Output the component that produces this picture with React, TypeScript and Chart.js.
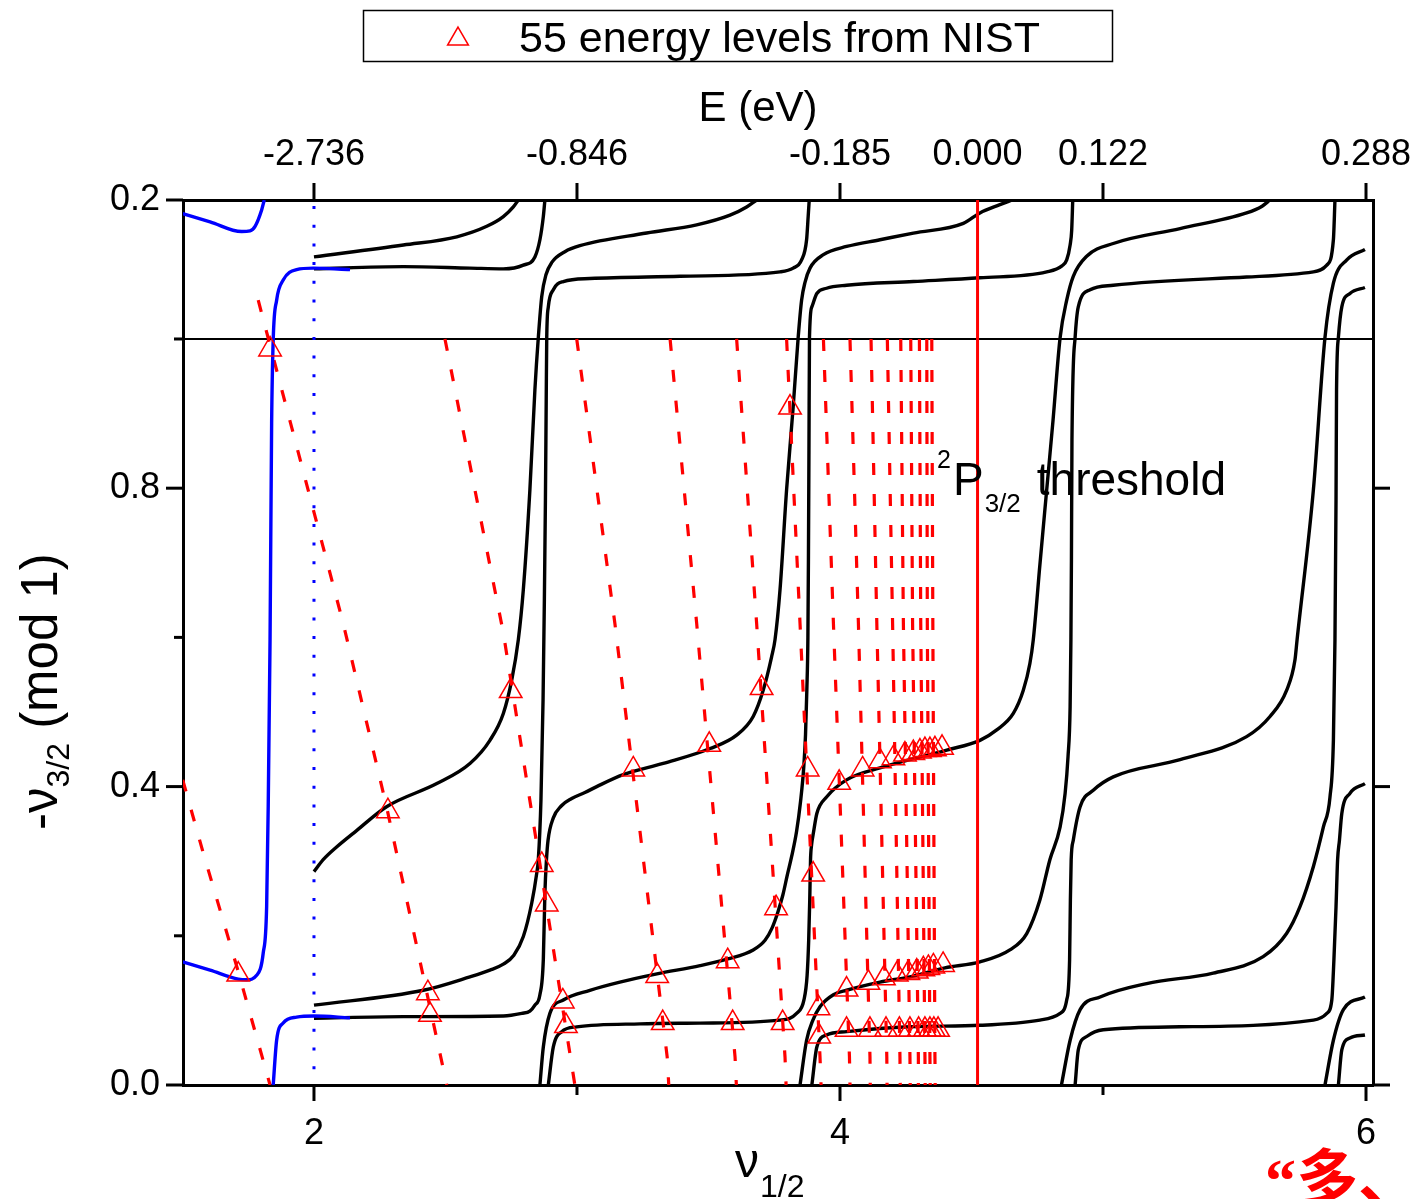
import React, { useEffect, useRef } from 'react';
import { Chart, registerables } from 'chart.js';

Chart.register(...registerables);

type Pt = [number, number];

// ---------- axes ----------
const X_MIN = 1.502;
const X_MAX = 6.0266;
const Y_MIN = 0;
const Y_MAX = 1.1863;

const xTickValues = [2, 4, 6];
const xTickLabels = ['2', '4', '6'];
const xMinorTicks = [3, 5];
const yTickValues = [0, 0.4, 0.8, 1.1863];
const yTickLabels = ['0.0', '0.4', '0.8', '0.2'];
const yMinorTicks = [0.2, 0.6, 1.0];
const yRightTicks = [0, 0.4, 0.8];
const eTickNu = [2, 3, 4, 4.523, 5, 6];
const eTickLabels = ['-2.736', '-0.846', '-0.185', '0.000', '0.122', '0.288'];
const eTickMarks = [2, 3, 4, 5, 6];

// ---------- reference lines ----------
const thresholdNu = 4.523;
const referenceLevel = 1.0;
const boundaryNu = 2;

// ---------- black MQDT curves (nu_1/2, -nu_3/2 mod 1) ----------
const curveMid23: Pt[] = [
  [2.0, 0.286], [2.035, 0.302], [2.086, 0.319], [2.162, 0.341], [2.276, 0.373], [2.467, 0.404],
  [2.593, 0.431], [2.669, 0.462], [2.72, 0.498], [2.752, 0.543], [2.777, 0.597], [2.796, 0.664],
  [2.821, 0.798], [2.84, 0.932], [2.853, 1.002], [2.866, 1.057], [2.882, 1.086], [2.905, 1.103],
  [2.954, 1.117], [3.011, 1.125], [3.265, 1.142], [3.455, 1.153], [3.582, 1.166], [3.645, 1.177],
  [3.683, 1.1863],
];
const curveLow23: Pt[] = [
  [2.0, 0.107], [2.416, 0.127], [2.593, 0.145], [2.669, 0.154], [2.72, 0.162], [2.76, 0.174],
  [2.796, 0.199], [2.828, 0.244], [2.847, 0.284], [2.853, 0.302], [2.863, 0.382], [2.871, 0.516],
  [2.876, 0.65], [2.88, 0.784], [2.883, 0.918], [2.885, 1.002], [2.891, 1.043], [2.91, 1.066],
  [2.948, 1.077], [3.049, 1.081], [3.392, 1.084], [3.772, 1.09], [3.822, 1.095], [3.854, 1.106],
  [3.873, 1.133], [3.879, 1.164], [3.883, 1.1863],
];
const curveFlat23: Pt[] = [
  [2.0, 0.0894], [2.34, 0.0916], [2.72, 0.0925], [2.79, 0.096], [2.821, 0.099], [2.84, 0.107],
  [2.859, 0.121], [2.872, 0.168], [2.878, 0.257], [2.884, 0.302], [2.89, 0.328], [2.91, 0.358],
  [2.94, 0.374], [2.98, 0.384], [3.03, 0.392], [3.075, 0.4], [3.176, 0.416], [3.328, 0.431],
  [3.506, 0.451], [3.607, 0.469], [3.67, 0.494], [3.708, 0.529], [3.74, 0.574], [3.753, 0.597],
  [3.772, 0.664], [3.797, 0.798], [3.822, 0.909], [3.841, 1.002], [3.854, 1.052], [3.867, 1.076],
  [3.886, 1.095], [3.937, 1.113], [4.025, 1.124], [4.152, 1.133], [4.279, 1.142], [4.469, 1.155],
  [4.532, 1.169], [4.608, 1.18], [4.654, 1.1863],
];
const curveLow34: Pt[] = [
  [2.859, 0.0], [2.872, 0.051], [2.897, 0.096], [2.948, 0.114], [3.049, 0.127], [3.163, 0.138],
  [3.304, 0.149], [3.468, 0.16], [3.573, 0.169], [3.67, 0.181], [3.715, 0.194], [3.741, 0.21],
  [3.764, 0.232], [3.783, 0.255], [3.8, 0.282], [3.816, 0.306], [3.835, 0.34], [3.85, 0.38],
  [3.862, 0.425], [3.869, 0.47], [3.874, 0.53], [3.878, 0.6], [3.88, 0.704], [3.882, 0.851],
  [3.884, 1.002], [3.893, 1.043], [3.912, 1.061], [3.949, 1.068], [4.025, 1.072], [4.279, 1.077],
  [4.532, 1.082], [4.786, 1.09], [4.844, 1.098], [4.862, 1.106], [4.875, 1.126], [4.881, 1.146],
  [4.885, 1.1863],
];
const curveFlat34: Pt[] = [
  [2.891, 0.0], [2.91, 0.051], [2.942, 0.0715], [2.999, 0.078], [3.24, 0.082], [3.468, 0.083],
  [3.772, 0.087], [3.835, 0.096], [3.863, 0.114], [3.875, 0.147], [3.881, 0.194], [3.885, 0.248],
  [3.888, 0.302], [3.892, 0.322], [3.899, 0.338], [3.912, 0.364], [3.949, 0.386], [4.025, 0.409],
  [4.152, 0.425], [4.406, 0.449], [4.532, 0.462], [4.596, 0.476], [4.659, 0.498], [4.697, 0.529],
  [4.722, 0.565], [4.735, 0.597], [4.76, 0.697], [4.786, 0.798], [4.81, 0.891], [4.837, 1.002],
  [4.862, 1.052], [4.887, 1.084], [4.938, 1.111], [5.039, 1.128], [5.293, 1.148], [5.546, 1.169],
  [5.605, 1.178], [5.635, 1.1863],
];
const curveLow45: Pt[] = [
  [3.848, 0.0], [3.873, 0.06], [3.897, 0.087], [3.924, 0.105], [3.975, 0.121], [4.025, 0.127],
  [4.152, 0.138], [4.266, 0.145], [4.399, 0.157], [4.532, 0.165], [4.646, 0.181], [4.71, 0.203],
  [4.76, 0.248], [4.798, 0.302], [4.837, 0.346], [4.856, 0.391], [4.867, 0.44], [4.875, 0.507],
  [4.878, 0.597], [4.88, 0.704], [4.882, 0.865], [4.894, 1.002], [4.906, 1.043], [4.951, 1.066],
  [5.039, 1.072], [5.546, 1.083], [5.8, 1.09], [5.851, 1.099], [5.876, 1.133], [5.882, 1.1863],
];
const curveFlat45: Pt[] = [
  [3.893, 0.0], [3.912, 0.051], [3.949, 0.067], [4.025, 0.0715], [4.266, 0.078], [4.532, 0.08],
  [4.76, 0.087], [4.837, 0.096], [4.862, 0.114], [4.873, 0.168], [4.876, 0.248], [4.879, 0.302],
  [4.887, 0.328], [4.913, 0.373], [4.963, 0.395], [5.039, 0.413], [5.293, 0.436], [5.546, 0.467],
  [5.635, 0.494], [5.698, 0.529], [5.73, 0.57], [5.738, 0.597], [5.8, 0.798], [5.844, 1.002],
  [5.876, 1.075], [5.927, 1.106], [5.996, 1.12],
];
const curveLow56: Pt[] = [
  [4.842, 0.0], [4.875, 0.06], [4.913, 0.101], [4.989, 0.118], [5.166, 0.136], [5.419, 0.15],
  [5.609, 0.172], [5.698, 0.203], [5.749, 0.239], [5.8, 0.293], [5.838, 0.346], [5.863, 0.386],
  [5.876, 0.462], [5.882, 0.597], [5.886, 0.784], [5.888, 0.932], [5.895, 1.002], [5.908, 1.043],
  [5.939, 1.061], [5.996, 1.069],
];
const curveFlat56: Pt[] = [
  [4.894, 0.0], [4.906, 0.047], [4.938, 0.065], [5.001, 0.074], [5.293, 0.078], [5.8, 0.087],
  [5.851, 0.096], [5.87, 0.114], [5.878, 0.168], [5.886, 0.239], [5.892, 0.302], [5.899, 0.328],
  [5.908, 0.364], [5.939, 0.391], [5.996, 0.404],
];
const curveLow6: Pt[] = [[5.844, 0.0], [5.876, 0.06], [5.914, 0.101], [5.996, 0.118]];
const curveFlat6: Pt[] = [[5.895, 0.0], [5.908, 0.047], [5.939, 0.063], [5.996, 0.067]];
const curveTopLow23: Pt[] = [
  [2.0, 1.11], [2.34, 1.126], [2.543, 1.137], [2.657, 1.151], [2.72, 1.164], [2.758, 1.177], [2.777, 1.1863],
];
const curveTopFlat23: Pt[] = [
  [2.0, 1.094], [2.34, 1.097], [2.593, 1.095], [2.72, 1.094], [2.796, 1.099], [2.84, 1.11],
  [2.859, 1.133], [2.872, 1.164], [2.878, 1.1863],
];

// ---------- blue curves (nu_1/2 < 2 region) ----------
const blueMain: Pt[] = [
  [1.501, 0.165], [1.605, 0.154], [1.712, 0.142], [1.744, 0.141], [1.782, 0.147], [1.807, 0.177],
  [1.82, 0.239], [1.826, 0.373], [1.833, 0.597], [1.839, 0.887], [1.845, 0.999], [1.858, 1.052],
  [1.883, 1.079], [1.934, 1.093], [1.997, 1.095], [2.137, 1.093],
];
const blueTop: Pt[] = [
  [1.501, 1.168], [1.605, 1.157], [1.725, 1.144], [1.757, 1.145], [1.776, 1.151], [1.801, 1.173], [1.811, 1.1863],
];
const blueBottom: Pt[] = [
  [1.845, 0.0], [1.858, 0.06], [1.883, 0.083], [1.934, 0.091], [2.0, 0.0925], [2.137, 0.09],
];

// ---------- red dashed level lines ----------
const levelLine0: Pt[] = [[1.501, 0.409], [1.579, 0.311], [1.712, 0.152], [1.833, 0.0]];
const levelLine1: Pt[] = [[1.788, 1.052], [2.111, 0.619], [2.276, 0.373], [2.505, 0.0]];
const levelLine2: Pt[] = [[2.498, 1.0], [2.72, 0.606], [2.992, 0.0]];
const levelLine3: Pt[] = [[2.999, 1.0], [3.144, 0.619], [3.343, 0.0375], [3.349, 0.0]];
const levelLine4: Pt[] = [[3.354, 1.0], [3.455, 0.619], [3.601, 0.0375], [3.606, 0.0]];
const levelLine5: Pt[] = [[3.607, 1.0], [3.683, 0.619], [3.791, 0.0375], [3.795, 0.0]];
const levelLine6: Pt[] = [[3.797, 1.0], [3.848, 0.619], [3.924, 0.0375], [3.928, 0.0]];
const levelLine7: Pt[] = [[3.937, 1.0], [3.975, 0.619], [4.036, 0.0375], [4.038, 0.0]];
const levelLine8: Pt[] = [[4.038, 1.0], [4.07, 0.619], [4.114, 0.0375], [4.115, 0.0]];
const levelLine9: Pt[] = [[4.118, 1.0], [4.14, 0.619], [4.178, 0.0375], [4.179, 0.0]];
const levelLine10: Pt[] = [[4.18, 1.0], [4.2, 0.619], [4.228, 0.0375], [4.229, 0.0]];
const levelLine11: Pt[] = [[4.231, 1.0], [4.241, 0.619], [4.266, 0.0375], [4.267, 0.0]];
const levelLine12: Pt[] = [[4.269, 1.0], [4.276, 0.619], [4.298, 0.0375], [4.298, 0.0]];
const levelLine13: Pt[] = [[4.302, 1.0], [4.307, 0.619], [4.323, 0.0375], [4.324, 0.0]];
const levelLine14: Pt[] = [[4.33, 1.0], [4.332, 0.619], [4.342, 0.0375], [4.343, 0.0]];
const levelLine15: Pt[] = [[4.349, 1.0], [4.353, 0.619], [4.361, 0.0375], [4.362, 0.0]];

// ---------- 55 NIST levels ----------
const nistLevels: Pt[] = [
  [1.712, 0.148],
  [1.833, 0.986], [2.281, 0.367], [2.433, 0.123], [2.441, 0.094],
  [2.748, 0.528], [2.866, 0.295], [2.885, 0.242], [2.946, 0.112], [2.958, 0.079],
  [3.214, 0.423], [3.305, 0.146], [3.326, 0.083],
  [3.503, 0.456], [3.573, 0.166], [3.592, 0.083],
  [3.702, 0.532], [3.757, 0.237], [3.782, 0.083],
  [3.81, 0.908], [3.877, 0.423], [3.898, 0.282], [3.918, 0.103], [3.921, 0.065],
  [3.997, 0.405], [4.086, 0.423], [4.152, 0.434], [4.203, 0.438], [4.247, 0.443], [4.279, 0.445],
  [4.304, 0.447], [4.323, 0.449], [4.342, 0.449], [4.361, 0.45], [4.388, 0.452],
  [4.025, 0.128], [4.108, 0.137], [4.167, 0.143], [4.216, 0.148], [4.26, 0.15], [4.292, 0.152],
  [4.317, 0.155], [4.336, 0.157], [4.355, 0.159], [4.392, 0.161],
  [4.025, 0.074], [4.114, 0.074], [4.175, 0.074], [4.226, 0.074], [4.266, 0.074], [4.299, 0.074],
  [4.323, 0.074], [4.342, 0.074], [4.357, 0.074], [4.373, 0.074],
];

const blackCurves = [
  curveMid23, curveLow23, curveFlat23, curveLow34, curveFlat34, curveLow45, curveFlat45,
  curveLow56, curveFlat56, curveLow6, curveFlat6, curveTopLow23, curveTopFlat23,
];
const blueCurves = [blueMain, blueTop, blueBottom];
const levelLines = [
  levelLine0, levelLine1, levelLine2, levelLine3, levelLine4, levelLine5, levelLine6, levelLine7,
  levelLine8, levelLine9, levelLine10, levelLine11, levelLine12, levelLine13, levelLine14, levelLine15,
];

const FONT = "'Liberation Sans', Arial, sans-serif";
const RED = '#ff0000';
const BLUE = '#0000ff';

const toXY = (pts: Pt[]) => pts.map(([x, y]) => ({ x, y }));

function drawTri(ctx: CanvasRenderingContext2D, x: number, y: number, r: number) {
  ctx.beginPath();
  ctx.moveTo(x, y - r);
  ctx.lineTo(x + r * Math.sin((2 * Math.PI) / 3), y - r * Math.cos((2 * Math.PI) / 3));
  ctx.lineTo(x + r * Math.sin((4 * Math.PI) / 3), y - r * Math.cos((4 * Math.PI) / 3));
  ctx.closePath();
  ctx.stroke();
}

const zeroPad = (s: any) => {
  s.paddingLeft = 0;
  s.paddingRight = 0;
  s.paddingTop = 0;
  s.paddingBottom = 0;
};

const decorPlugin = {
  id: 'decor',
  afterDraw(chart: any) {
    const { ctx, chartArea: a, scales } = chart;
    const xs = scales.x;
    const ys = scales.y;
    ctx.save();
    ctx.strokeStyle = '#000';
    ctx.lineWidth = 3;
    const seg = (x1: number, y1: number, x2: number, y2: number) => {
      ctx.beginPath();
      ctx.moveTo(x1, y1);
      ctx.lineTo(x2, y2);
      ctx.stroke();
    };
    yTickValues.forEach((v) => { const p = ys.getPixelForValue(v); seg(a.left - 17, p, a.left, p); });
    yMinorTicks.forEach((v) => { const p = ys.getPixelForValue(v); seg(a.left - 9, p, a.left, p); });
    yRightTicks.forEach((v) => { const p = ys.getPixelForValue(v); seg(a.right, p, a.right + 17, p); });
    xTickValues.forEach((v) => { const p = xs.getPixelForValue(v); seg(p, a.bottom, p, a.bottom + 16); });
    xMinorTicks.forEach((v) => { const p = xs.getPixelForValue(v); seg(p, a.bottom, p, a.bottom + 10); });
    eTickMarks.forEach((v) => { const p = xs.getPixelForValue(v); seg(p, a.top, p, a.top - 17); });

    ctx.fillStyle = '#000';
    ctx.textBaseline = 'alphabetic';
    ctx.textAlign = 'left';

    // legend
    ctx.lineWidth = 1.5;
    ctx.strokeRect(363.5, 10.5, 749, 51);
    ctx.strokeStyle = RED;
    drawTri(ctx, 458, 39, 12);
    ctx.font = `43px ${FONT}`;
    ctx.fillText('55 energy levels from NIST', 519, 52);

    // top title
    ctx.font = `42px ${FONT}`;
    ctx.textAlign = 'center';
    ctx.fillText('E (eV)', 758, 121);
    ctx.textAlign = 'left';

    // bottom title
    ctx.font = `48px ${FONT}`;
    ctx.fillText('\u03bd', 735, 1177);
    ctx.font = `32px ${FONT}`;
    ctx.fillText('1/2', 760, 1197);

    // left title (rotated)
    ctx.save();
    ctx.translate(57, 830);
    ctx.rotate(-Math.PI / 2);
    let cx = 0;
    ctx.font = `51px ${FONT}`;
    ctx.fillText('-\u03bd', cx, 0);
    cx += ctx.measureText('-\u03bd').width;
    ctx.font = `32px ${FONT}`;
    ctx.fillText('3/2', cx, 12);
    cx += ctx.measureText('3/2').width;
    ctx.font = `51px ${FONT}`;
    ctx.fillText(' (mod 1)', cx, 0);
    ctx.restore();

    // threshold annotation
    const tx = xs.getPixelForValue(4.369);
    ctx.font = `25px ${FONT}`;
    ctx.fillText('2', tx, 468);
    let px = tx + ctx.measureText('2').width + 2;
    ctx.font = `46px ${FONT}`;
    ctx.fillText('P', px, 495);
    px += ctx.measureText('P').width + 1;
    ctx.font = `26px ${FONT}`;
    ctx.fillText('3/2', px, 512);
    px += ctx.measureText('3/2').width + 16;
    ctx.font = `46px ${FONT}`;
    ctx.fillText('threshold', px, 495);

    // red Chinese text at bottom right
    ctx.fillStyle = RED;
    ctx.font = "bold 62px 'Liberation Serif', 'Noto Sans CJK SC', serif";
    ctx.fillText('\u201c\u591a\u3001', 1265, 1201);

    ctx.restore();
  },
};

export default function App() {
  const ref = useRef<HTMLCanvasElement | null>(null);

  useEffect(() => {
    const canvas = ref.current;
    if (!canvas) return;
    Chart.defaults.font.family = FONT;
    Chart.defaults.color = '#000';

    const datasets: any[] = [];
    datasets.push({
      label: '55 energy levels from NIST',
      data: toXY(nistLevels),
      showLine: false,
      pointStyle: 'triangle',
      pointRadius: 13,
      pointBorderWidth: 1.5,
      pointBorderColor: RED,
      pointBackgroundColor: 'rgba(0,0,0,0)',
      order: 0,
    });
    blueCurves.forEach((c) =>
      datasets.push({
        data: toXY(c), borderColor: BLUE, borderWidth: 3.4, pointRadius: 0,
        cubicInterpolationMode: 'monotone', fill: false, order: 1,
      })
    );
    datasets.push({
      data: [{ x: thresholdNu, y: Y_MIN }, { x: thresholdNu, y: Y_MAX }],
      borderColor: RED, borderWidth: 3, pointRadius: 0, tension: 0, fill: false, order: 2,
    });
    levelLines.forEach((c) =>
      datasets.push({
        data: toXY(c), borderColor: RED, borderWidth: 3.2, borderDash: [12, 19], pointRadius: 0,
        tension: 0, fill: false, order: 3,
      })
    );
    datasets.push({
      data: [{ x: boundaryNu, y: Y_MAX }, { x: boundaryNu, y: Y_MIN }],
      borderColor: BLUE, borderWidth: 3, borderDash: [3, 15.7], borderDashOffset: -6, pointRadius: 0,
      tension: 0, fill: false, order: 4,
    });
    blackCurves.forEach((c) =>
      datasets.push({
        data: toXY(c), borderColor: '#000', borderWidth: 3.4, pointRadius: 0,
        cubicInterpolationMode: 'monotone', fill: false, order: 5,
      })
    );
    datasets.push({
      data: [{ x: X_MIN, y: referenceLevel }, { x: X_MAX, y: referenceLevel }],
      borderColor: '#000', borderWidth: 2, pointRadius: 0, tension: 0, fill: false, order: 6,
    });

    const tickFont = { family: FONT, size: 36 };
    const chart = new Chart(canvas, {
      type: 'line',
      data: { datasets },
      options: {
        animation: false,
        responsive: false,
        devicePixelRatio: 1,
        events: [],
        layout: { padding: 0 },
        plugins: { legend: { display: false }, tooltip: { enabled: false } },
        scales: {
          x: {
            type: 'linear', position: 'bottom', min: X_MIN, max: X_MAX,
            afterBuildTicks: (s: any) => { s.ticks = xTickValues.map((v) => ({ value: v })); },
            ticks: {
              callback: (_v: any, i: number) => xTickLabels[i], font: tickFont, color: '#000',
              padding: 27, autoSkip: false, maxRotation: 0, minRotation: 0,
            },
            grid: { display: false, drawTicks: false },
            border: { display: true, color: '#000', width: 3 },
            afterFit: (s: any) => { s.height = 114; zeroPad(s); },
          },
          x2: {
            type: 'linear', position: 'top', min: X_MIN, max: X_MAX,
            afterBuildTicks: (s: any) => { s.ticks = eTickNu.map((v) => ({ value: v })); },
            ticks: {
              callback: (_v: any, i: number) => eTickLabels[i], font: tickFont, color: '#000',
              padding: 23, autoSkip: false, maxRotation: 0, minRotation: 0,
            },
            grid: { display: false, drawTicks: false },
            border: { display: true, color: '#000', width: 3 },
            afterFit: (s: any) => { s.height = 200; zeroPad(s); },
          },
          y: {
            type: 'linear', position: 'left', min: Y_MIN, max: Y_MAX,
            afterBuildTicks: (s: any) => { s.ticks = yTickValues.map((v) => ({ value: v })); },
            ticks: {
              callback: (_v: any, i: number) => yTickLabels[i], font: tickFont, color: '#000',
              padding: 23, autoSkip: false,
            },
            grid: { display: false, drawTicks: false },
            border: { display: true, color: '#000', width: 3 },
            afterFit: (s: any) => { s.width = 183; zeroPad(s); },
          },
          y2: {
            type: 'linear', position: 'right', min: Y_MIN, max: Y_MAX,
            ticks: { display: false },
            grid: { display: false, drawTicks: false },
            border: { display: true, color: '#000', width: 3 },
            afterFit: (s: any) => { s.width = 49; zeroPad(s); },
          },
        },
      } as any,
      plugins: [decorPlugin],
    });
    return () => chart.destroy();
  }, []);

  return (
    <div style={{ position: 'absolute', left: 0, top: 0, width: 1422, height: 1199, background: '#fff' }}>
      <canvas ref={ref} width={1422} height={1199} style={{ display: 'block', width: 1422, height: 1199 }} />
    </div>
  );
}
